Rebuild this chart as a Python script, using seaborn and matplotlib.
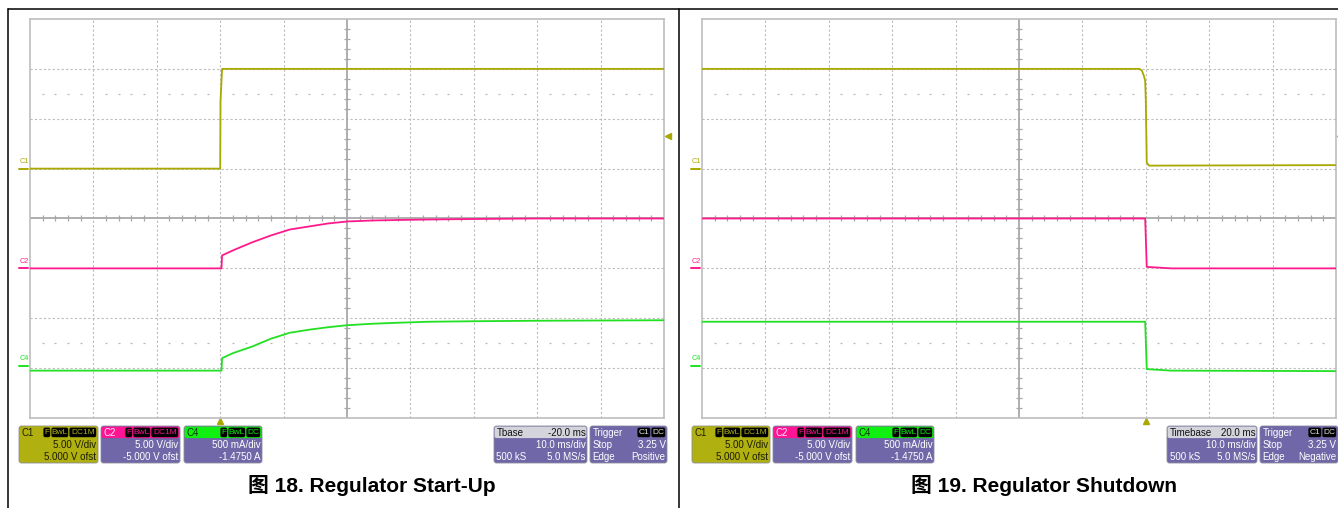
import numpy as np
import pandas as pd
import seaborn as sns
import matplotlib
matplotlib.use('Agg')
import matplotlib.pyplot as plt
from matplotlib.patches import FancyBboxPatch
#-----------------------------
# channel setup as shown in the scope readout (unit/div, offset)
ch_names = ['C1', 'C2', 'C4']
ch_scale = [5.0, 5.0, 0.5]
ch_ofst = [5.0, -5.0, -1.475]
ch_colors = ['#a8a800', '#ff1a8c', '#22e022']
trig_level = 3.25  # V on C1
#-----------------------------
# Fig 18 start-up (time in ms, trigger at 0)
up_t_c1 = [-30, 0.0, 0.05, 0.3, 70]
up_c1 = [0.0, 0.0, 6.8, 10.0, 10.0]
up_t = [-30, 0.2, 0.3, 2, 5, 8, 11, 14, 17, 20, 24, 28, 33, 40, 50, 70]
up_c2 = [0.0, 0.0, 1.3, 1.8, 2.6, 3.3, 3.9, 4.2, 4.5, 4.7, 4.8, 4.85, 4.9, 4.95, 5.0, 5.0]
up_c4 = [-0.05, -0.05, 0.075, 0.125, 0.19, 0.27, 0.33, 0.36, 0.385, 0.405,
         0.42, 0.43, 0.44, 0.445, 0.45, 0.455]
# Fig 19 shutdown
dn_t_c1 = [-70, -1.0, -0.6, -0.3, -0.1, 0.0, 0.15, 0.5, 30]
dn_c1 = [10.0, 10.0, 9.8, 9.3, 8.8, 6.8, 0.6, 0.3, 0.35]
dn_t = [-70, -0.1, 0.15, 4, 30]
dn_c2 = [5.0, 5.0, 0.15, 0.0, 0.0]
dn_c4 = [0.44, 0.44, -0.035, -0.05, -0.055]
#-----------------------------
# readout texts
chan_rows = [[('', '5.00 V/div'), ('', '5.000 V ofst')],
             [('', '5.00 V/div'), ('', '-5.000 V ofst')],
             [('', '500 mA/div'), ('', '-1.4750 A')]]
chan_badges = [['F', 'BwL', 'DC1M'], ['F', 'BwL', 'DC1M'], ['F', 'BwL', 'DC']]
up_tbase = ['Tbase', '-20.0 ms']
dn_tbase = ['Timebase', '20.0 ms']
tb_rows = [('', '10.0 ms/div'), ('500 kS', '5.0 MS/s')]
up_trig = [('Stop', '3.25 V'), ('Edge', 'Positive')]
dn_trig = [('Stop', '3.25 V'), ('Edge', 'Negative')]
captions = ['图 18. Regulator Start-Up', '图 19. Regulator Shutdown']
#-----------------------------
W, H = 1338, 508
sns.set_style('white')
plt.rcParams['font.family'] = ['Liberation Sans', 'Noto Sans CJK SC', 'DejaVu Sans']

fig = plt.figure(figsize=(W / 100, H / 100), dpi=100)
ax0 = fig.add_axes([0, 0, 1, 1], zorder=0)
ax0.set_xlim(0, W)
ax0.set_ylim(H, 0)
ax0.axis('off')

def px_axes(x0, y0, x1, y1):
    return fig.add_axes([x0 / W, 1 - y1 / H, (x1 - x0) / W, (y1 - y0) / H], zorder=2)

def to_div(vals, i):
    return [(v + ch_ofst[i]) / ch_scale[i] for v in vals]

def draw_scope(ax, xlim, traces, pxdiv):
    t0, t1 = xlim
    dv = (t1 - t0) / 10.0
    px = dv / pxdiv  # one pixel in time units
    ax.set_xlim(t0, t1)
    ax.set_ylim(-4, 4)
    ax.set_xticks([])
    ax.set_yticks([])
    for s in ax.spines.values():
        s.set_visible(True)
        s.set_color('#bdbdbd')
        s.set_linewidth(1.2)
    for k in range(1, 10):
        if k != 5:
            ax.axvline(t0 + k * dv, color='#bcbcbc', lw=0.8, ls=(0, (2, 2)), zorder=1)
    for k in range(-3, 4):
        if k != 0:
            ax.axhline(k, color='#bcbcbc', lw=0.8, ls=(0, (2, 2)), zorder=1)
    tc = t0 + 5 * dv
    ax.axvline(tc, color='#a8a8a8', lw=1.3, zorder=1)
    ax.axhline(0, color='#a8a8a8', lw=1.3, zorder=1)
    fx = [t0 + k * dv / 5 for k in range(1, 50) if k % 5]
    fy = [k / 5 for k in range(-19, 20) if k % 5]
    ax.plot(fx, [0] * len(fx), ls='none', marker='|', ms=4, mew=0.9, color='#a8a8a8', zorder=1)
    ax.plot([tc] * len(fy), fy, ls='none', marker='_', ms=4, mew=0.9, color='#a8a8a8', zorder=1)
    for yy in (2.5, -2.5):
        ax.plot(fx, [yy] * len(fx), ls='none', marker='_', ms=1.6, mew=0.9, color='#b8b8b8', zorder=1)

    frames = []
    for i, (tt, vv) in enumerate(traces):
        frames.append(pd.DataFrame({'t': tt, 'div': to_div(vv, i), 'ch': ch_names[i]}))
    df = pd.concat(frames, ignore_index=True)
    sns.lineplot(data=df, x='t', y='div', hue='ch', palette=dict(zip(ch_names, ch_colors)),
                 sort=False, estimator=None, legend=False, lw=1.3, ax=ax, zorder=3)
    ax.set_xlabel('')
    ax.set_ylabel('')

    # ground markers with channel names
    for i in range(3):
        g = ch_ofst[i] / ch_scale[i]
        ax.plot([t0 - 11 * px, t0 - 2 * px], [g, g], color=ch_colors[i], lw=1.4, clip_on=False)
        ax.text(t0 - 6 * px, g + 0.07, ch_names[i], color=ch_colors[i], fontsize=5.2,
                ha='center', va='bottom', clip_on=False)
    # trigger position and level
    ax.plot([0], [-4.07], marker='^', ms=5, color='#a8a800', clip_on=False, ls='none')
    ax.plot([t1 + 4 * px], [(trig_level + ch_ofst[0]) / ch_scale[0]], marker='<', ms=5,
            color='#a8a800', clip_on=False, ls='none')

def rbox(x0, y0, w, h, fc, ec='none', lw=0, r=2.5):
    ax0.add_patch(FancyBboxPatch((x0, y0), w, h, boxstyle='round,pad=0,rounding_size=%s' % r,
                                 fc=fc, ec=ec, lw=lw))

badge_w = {'F': 8, 'BwL': 18, 'DC1M': 28, 'DC': 15, 'C1': 14}

def readout(x0, x1, hdr_fc, hdr_l, hdr_l_col, hdr_r, hdr_r_col, badges, badge_col,
            body_fc, body_col, rows):
    y0, y1 = 426, 463
    rbox(x0, y0, x1 - x0, y1 - y0, body_fc, ec='#8c8c9c', lw=0.6)
    rbox(x0 + 0.6, y0 + 0.6, x1 - x0 - 1.2, 11.5, hdr_fc, r=2)
    ax0.text(x0 + 2.5, y0 + 6.5, hdr_l, color=hdr_l_col, fontsize=7, ha='left', va='center')
    if hdr_r:
        ax0.text(x1 - 1.5, y0 + 6.5, hdr_r, color=hdr_r_col, fontsize=7, ha='right', va='center')
    xb = x1 - 1.2
    for b in reversed(badges):
        w = badge_w[b]
        rbox(xb - w + 0.6, y0 + 1.6, w - 1.2, 9.6, 'black', r=1.8)
        ax0.text(xb - w / 2, y0 + 6.5, b, color=badge_col, fontsize=6, ha='center', va='center')
        xb -= w
    for j, (l, r) in enumerate(rows):
        yy = 445.5 + j * 11
        if l:
            ax0.text(x0 + 2.5, yy, l, color=body_col, fontsize=7, ha='left', va='center')
        ax0.text(x1 - 1.5, yy, r, color=body_col, fontsize=7, ha='right', va='center')

PURPLE = '#6f67a8'
OLIVE = '#b0b010'
hdr_cols = [OLIVE, '#ff1493', '#10f010']
name_cols = ['#202000', '#ffe6f2', '#103010']
body_fcs = [OLIVE, PURPLE, PURPLE]
body_txt = ['#1c1c00', 'white', 'white']

def panel(axpx, xlim, traces, chan_x, tb_x, tbase, trig_x, trig_rows):
    ax = px_axes(*axpx)
    draw_scope(ax, xlim, traces, (axpx[2] - axpx[0]) / 10.0)
    for i in range(3):
        readout(chan_x[i][0], chan_x[i][1], hdr_cols[i], ch_names[i], name_cols[i], None, None,
                chan_badges[i], hdr_cols[i], body_fcs[i], body_txt[i], chan_rows[i])
    readout(tb_x[0], tb_x[1], '#d4d4dc', tbase[0], '#111111', tbase[1], '#111111', [], None,
            PURPLE, 'white', tb_rows)
    readout(trig_x[0], trig_x[1], PURPLE, 'Trigger', 'white', None, None, ['C1', 'DC'], '#e0e0e0',
            PURPLE, 'white', trig_rows)
    return ax

panel((30, 19, 664, 418), (-30, 70),
      [(up_t_c1, up_c1), (up_t, up_c2), (up_t, up_c4)],
      [(19, 98), (101, 180), (184, 262)], (494, 587), up_tbase, (590, 667), up_trig)
panel((702, 19, 1336, 418), (-70, 30),
      [(dn_t_c1, dn_c1), (dn_t, dn_c2), (dn_t, dn_c4)],
      [(692, 770), (773, 852), (856, 934)], (1167, 1257), dn_tbase, (1260, 1338), dn_trig)

for cx, cap in zip([372, 1044], captions):
    ax0.text(cx, 485, cap, fontsize=15, fontweight='bold', ha='center', va='center', color='black')

# outer frame
ax0.plot([8, 8], [9, H], color='black', lw=1.1)
ax0.plot([8, W], [9, 9], color='black', lw=1.1)
ax0.plot([679, 679], [9, H], color='black', lw=1.1)

fig.savefig('out.png', dpi=100)
